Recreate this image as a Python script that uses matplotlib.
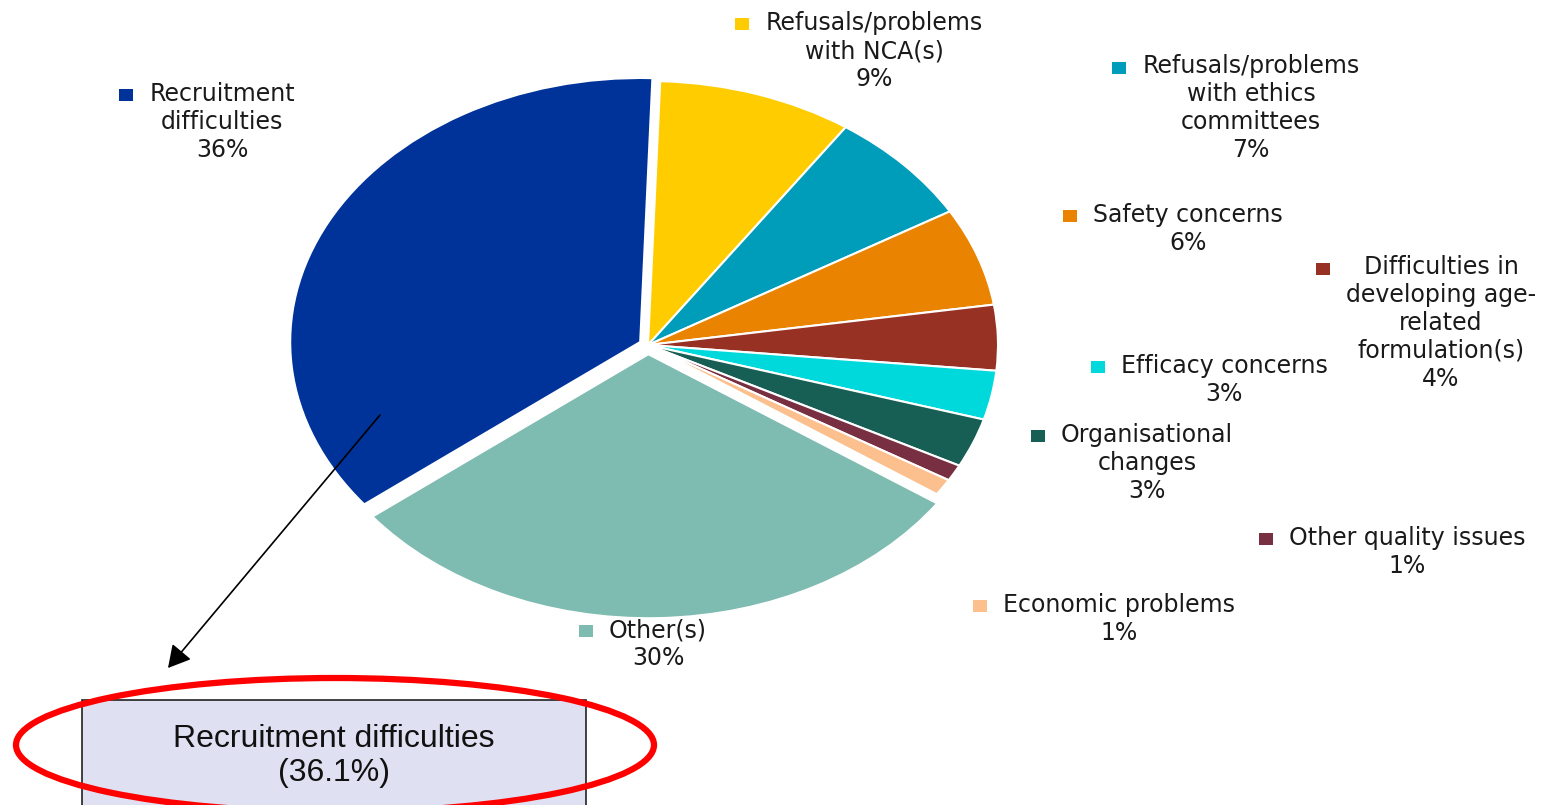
import matplotlib
matplotlib.use("Agg")
import matplotlib.pyplot as plt
from matplotlib.patches import Rectangle, Ellipse

# Reasons for trial discontinuation, clockwise from 12 o'clock
categories = [
    "Refusals/problems\nwith NCA(s)",
    "Refusals/problems\nwith ethics\ncommittees",
    "Safety concerns",
    "Difficulties in\ndeveloping age-\nrelated\nformulation(s)",
    "Efficacy concerns",
    "Organisational\nchanges",
    "Other quality issues",
    "Economic problems",
    "Other(s)",
    "Recruitment\ndifficulties",
]
shares = [9, 7, 6, 4, 3, 3, 1, 1, 29.9, 36.1]
colors = ["#FFCC00", "#009DBB", "#E98300", "#963124", "#00D9DC",
          "#175E54", "#772F41", "#FBC08E", "#7EBBB1", "#003399"]
explode = [0, 0, 0, 0, 0, 0, 0, 0, 0.035, 0.025]

# label block centres, in pixels from the top-left corner
label_pos = [(874, 51), (1251, 108), (1188, 229), (1441, 323), (1224, 380),
             (1147, 463), (1407, 552), (1119, 619), (658, 644), (222, 122)]

highlight = 9  # index of the slice called out below the pie

W, H = 1560, 805
fig = plt.figure(figsize=(W / 100, H / 100), dpi=100)

# pie axes, stretched so the pie reads as an ellipse
cx, cy, rx, ry = 648, 345, 350, 264
ax = fig.add_axes([(cx - 1.25 * rx) / W, (H - cy - 1.25 * ry) / H,
                   2.5 * rx / W, 2.5 * ry / H])
ax.pie(shares, colors=colors, explode=explode, startangle=88,
       counterclock=False, wedgeprops=dict(edgecolor="white", linewidth=1.5))
ax.set_aspect("auto")
ax.set_xlim(-1.25, 1.25)
ax.set_ylim(-1.25, 1.25)
ax.axis("off")

# overlay in pixel units for labels and callout
ov = fig.add_axes([0, 0, 1, 1])
ov.set_xlim(0, W)
ov.set_ylim(H, 0)
ov.axis("off")

renderer = fig.canvas.get_renderer()
fs = 17
for name, val, col, (x, y) in zip(categories, shares, colors, label_pos):
    txt = f"{name}\n{round(val)}%"
    t = ov.text(x, y, txt, ha="center", va="center", fontsize=fs,
                color="#1a1a1a", family="DejaVu Sans", fontstretch="expanded",
                linespacing=1.2)
    bb = t.get_window_extent(renderer)
    n_lines = txt.count("\n") + 1
    line_h = bb.height / n_lines
    mx = bb.x0 - 16 - 7
    my = H - (bb.y1 - line_h / 2)
    ov.add_patch(Rectangle((mx - 7, my - 6), 14, 12, facecolor=col,
                           edgecolor="none"))

# callout for the largest reason
ov.annotate("", xy=(168, 668), xytext=(380, 415),
            arrowprops=dict(arrowstyle="-|>,head_length=0.45,head_width=0.25",
                            color="black", lw=1.2, mutation_scale=30,
                            shrinkA=0, shrinkB=0))
ov.add_patch(Rectangle((82, 700), 504, 130, facecolor="#DFE0F1",
                       edgecolor="#222222", linewidth=1.2, clip_on=False))
ov.text(334, 756, f"Recruitment difficulties\n({shares[highlight]:.1f}%)",
        ha="center", va="center", fontsize=23, color="#111111",
        family="Liberation Sans", linespacing=1.15)
ov.add_patch(Ellipse((335, 745), 638, 134, facecolor="none",
                     edgecolor="#FF0000", linewidth=4.5))

fig.savefig("out.png", dpi=100)
